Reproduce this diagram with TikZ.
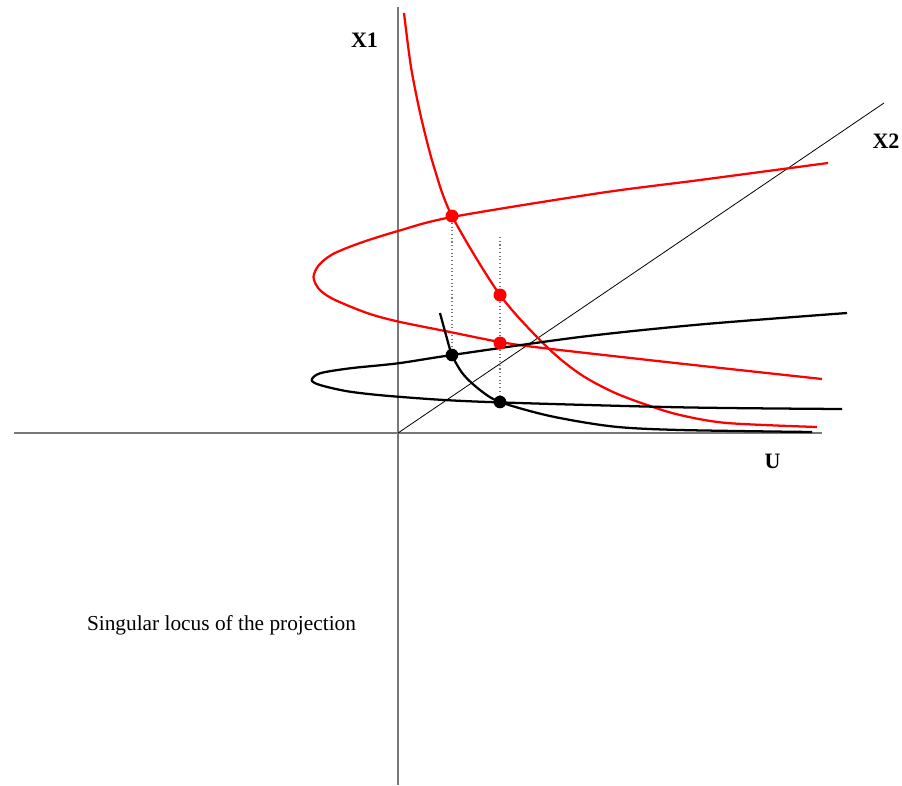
\documentclass[tikz,border=0pt]{standalone}
\usepackage{fontspec}
\setmainfont{Liberation Serif}
\usetikzlibrary{positioning}
\definecolor{axisgray}{rgb}{0.47, 0.47, 0.47}

\begin{document}
\begin{tikzpicture}[
    x=0.75pt, y=-0.75pt,
    font=\fontsize{16}{19}\selectfont,
    axis/.style={draw=axisgray, line width=1.2pt},
    diag/.style={draw=black, line width=0.6pt},
    guide/.style={draw=axisgray, dotted, line width=0.8pt},
    redcurve/.style={draw=red, line width=1.7pt},
    blkcurve/.style={draw=black, line width=1.7pt},
    reddot/.style={circle, fill=red, inner sep=0pt, minimum size=9.75pt},
    blkdot/.style={circle, fill=black, inner sep=0pt, minimum size=9.5pt},
    axislabel/.style={font=\fontsize{16.5}{20}\selectfont\bfseries}
]
\useasboundingbox (0,0) rectangle (902,785);
% --- Axes ---
\coordinate (O) at (398,433);
\coordinate (Uend) at (822,433);
\coordinate (Uneg) at (14,433);
\coordinate (Xtop) at (398,7);
\coordinate (Xbot) at (398,785);
\coordinate (Dend) at (884,103);
\draw[axis] (Uneg) -- (Uend);
\draw[axis] (Xtop) -- (Xbot);
\draw[diag] (O) -- (Dend);
\node[axislabel] (LX1) at (364.5,40.5) {X1};
\node[axislabel] (LX2) at (886,141.5) {X2};
\node[axislabel] (LU) at (772.5,461) {U};

% --- Red curves ---
\draw[redcurve] plot[smooth] coordinates {
    (404,13) (411,67) (421,117) (434,167) (452,216) (500,295) (547,347)
    (580,374) (613,392) (647,405) (680,415) (727,423) (817,427)};
\draw[redcurve] plot[smooth] coordinates {
    (828,163) (700,180) (600,193) (452,217) (398,231) (360,243) (333,254)
    (319,265) (313.5,277) (319,289) (333,299) (367,313) (398,321.5) (450,332)
    (500,342) (547,348.5) (680,363.5) (822,379)};

% --- Black curves ---
\draw[blkcurve] plot[smooth] coordinates {
    (847,313) (700,324.5) (580,337) (452,355) (398,363.3) (350,368.3) (320,373.3)
    (311.7,380) (320,385) (350,391.7) (398,396.7) (480,401.7) (680,407.3) (842,409)};
\draw[blkcurve] plot[smooth] coordinates {
    (440,313) (446,335) (452,355) (463,374) (480,390) (500,402) (550,416)
    (613,426.5) (680,430) (812,432)};

% --- Points of the locus ---
\coordinate (Gtop) at (500,237);
\node[reddot] (R1) at (452,216) {};
\node[reddot] (R2) at (500,295) {};
\node[reddot] (R3) at (500,343) {};
\node[blkdot] (B1) at (452,355) {};
\node[blkdot] (B2) at (500,402) {};
\draw[guide] (R1.south) -- (B1);
\draw[guide] (Gtop) -- (R2.north);
\draw[guide] (R2.south) -- (R3.north);
\draw[guide] (R3.south) -- (B2);

% Caption
\node (caption) at (221.5,625) {Singular locus of the projection};
\end{tikzpicture}
\end{document}
